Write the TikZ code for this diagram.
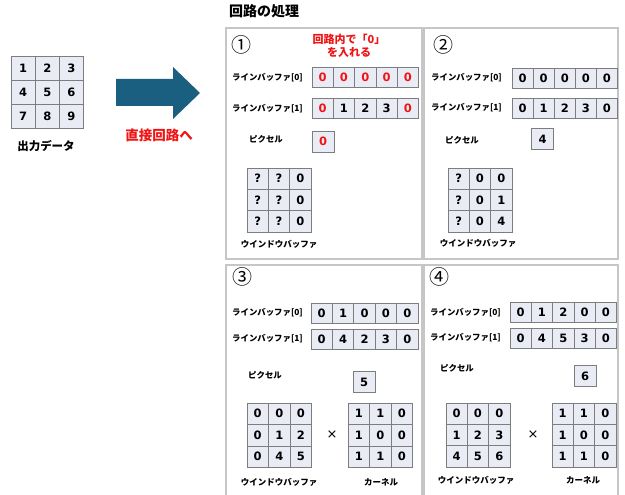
\documentclass[tikz,border=0pt]{standalone}
\usepackage{fontspec}
\setmainfont{Noto Sans CJK JP}
\newfontfamily\digf{DejaVu Sans}
\definecolor{cellfill}{RGB}{233,235,245}
\definecolor{celldraw}{RGB}{125,125,125}
\definecolor{arrowc}{RGB}{26,94,128}
\definecolor{panelc}{RGB}{198,198,198}
\definecolor{redtxt}{RGB}{240,20,20}
\newcommand\rd{\color{redtxt}}
\tikzset{
  cell/.style={draw=celldraw,fill=cellfill,inner sep=0pt,line width=0.8pt,
    font=\digf\bfseries\fontsize{11.5}{12}\selectfont},
  lbl/.style={inner sep=0pt,font=\bfseries\fontsize{8.4}{9}\selectfont},
  capt/.style={inner sep=0pt,font=\bfseries\fontsize{8.5}{10}\selectfont},
  circ/.style={inner sep=0pt,font=\fontsize{20}{21}\selectfont},
  panel/.style={draw=panelc,line width=1.8pt},
  times/.style={inner sep=0pt,font=\digf\fontsize{13}{14}\selectfont}
}
% row of cells: name, x left, y center, width, height, list
\newcommand\mkrow[6]{%
  \foreach \v [count=\i] in {#6}
    \node[cell,minimum width=#4pt,minimum height=#5pt] (#1\i) at ({#2+(\i-0.5)*#4},#3) {\v};}
% 3x3 grid: name, x left, y top, cell size, list
\newcommand\mkgrid[5]{%
  \foreach \v [count=\i] in {#5} {
    \pgfmathtruncatemacro\rr{(\i-1)/3}
    \pgfmathtruncatemacro\cc{mod(\i-1,3)}
    \node[cell,minimum width=#4pt,minimum height=#4pt] (#1\i) at ({#2+(\cc+0.5)*#4},{#3+(\rr+0.5)*#4}) {\v};
  }}
\begin{document}
\begin{tikzpicture}[x=1pt,y=-1pt]
\useasboundingbox (0,0) rectangle (625,495);

% left: output data
\mkgrid{out}{11}{56}{24.2}{1,2,3,4,5,6,7,8,9}
\node[inner sep=0pt,font=\bfseries\fontsize{11.5}{12}\selectfont] (outlbl) at (46,146) {出力データ};

% big arrow
\fill[arrowc] (116,79) -- (173,79) -- (173,67) -- (200,93) -- (173,119) -- (173,106) -- (116,106) -- cycle;
\node[inner sep=0pt,text=redtxt,font=\bfseries\fontsize{13.5}{14}\selectfont] (direct) at (159,135) {直接回路へ};

% title
\node[anchor=west,inner sep=0pt,font=\bfseries\fontsize{14}{15}\selectfont] (title) at (229,11) {回路の処理};

% panels
\draw[panel] (226,28) rectangle (422,259);
\draw[panel] (424,28) rectangle (618,259);
\draw[panel] (226,497) -- (226,265) -- (422,265) -- (422,497);
\draw[panel] (424,497) -- (424,265) -- (618,265) -- (618,497);

% ---- panel 1
\node[circ] (n1) at (241,45) {①};
\node[inner sep=0pt,text=redtxt,font=\bfseries\fontsize{11}{12.5}\selectfont,align=center] (note) at (349,46) {回路内で「0」\\を入れる};
\node[lbl,anchor=west] (a0) at (232,77.5) {ラインバッファ[0]};
\node[lbl,anchor=west] (a1) at (232,108.5) {ラインバッファ[1]};
\mkrow{al0}{312}{77.5}{21.3}{20}{\rd 0,\rd 0,\rd 0,\rd 0,\rd 0}
\mkrow{al1}{312}{108.5}{21.3}{20}{\rd 0,1,2,3,\rd 0}
\node[lbl] (apx) at (266,139) {ピクセル};
\node[cell,minimum width=22pt,minimum height=21pt] (apc) at (323,141.5) {\rd 0};
\mkgrid{aw}{247}{168}{21.3}{?,?,0,?,?,0,?,?,0}
\node[capt] (awl) at (279,244) {ウインドウバッファ};

% ---- panel 2
\node[circ] (n2) at (443,45) {②};
\node[lbl,anchor=west] (b0) at (431,78) {ラインバッファ[0]};
\node[lbl,anchor=west] (b1) at (431,108) {ラインバッファ[1]};
\mkrow{bl0}{512}{78}{21.1}{20}{0,0,0,0,0}
\mkrow{bl1}{512}{108}{21.1}{20}{0,1,2,3,0}
\node[lbl] (bpx) at (462,140) {ピクセル};
\node[cell,minimum width=22pt,minimum height=21pt] (bpc) at (542.5,139) {4};
\mkgrid{bw}{448}{168}{21.3}{?,0,0,?,0,1,?,0,4}
\node[capt] (bwl) at (478,243) {ウインドウバッファ};

% ---- panel 3
\node[circ] (n3) at (242,277) {③};
\node[lbl,anchor=west] (c0) at (232,313) {ラインバッファ[0]};
\node[lbl,anchor=west] (c1) at (232,339) {ラインバッファ[1]};
\mkrow{cl0}{311}{313}{21.4}{20}{0,1,0,0,0}
\mkrow{cl1}{311}{339}{21.4}{20}{0,4,2,3,0}
\node[lbl] (cpx) at (265,375) {ピクセル};
\node[cell,minimum width=22pt,minimum height=21pt] (cpc) at (364,382) {5};
\mkgrid{cw}{247}{403}{21.5}{0,0,0,0,1,2,0,4,5}
\node[times] (cx) at (332,435) {×};
\mkgrid{ck}{348}{403}{21.5}{1,1,0,1,0,0,1,1,0}
\node[capt] (cwl) at (279,482) {ウインドウバッファ};
\node[capt] (ckl) at (381,482) {カーネル};

% ---- panel 4
\node[circ] (n4) at (439,277) {④};
\node[lbl,anchor=west] (d0) at (430,312.5) {ラインバッファ[0]};
\node[lbl,anchor=west] (d1) at (430,338) {ラインバッファ[1]};
\mkrow{dl0}{510}{312.5}{21.3}{20}{0,1,2,0,0}
\mkrow{dl1}{510}{338}{21.3}{20}{0,4,5,3,0}
\node[lbl] (dpx) at (457,368) {ピクセル};
\node[cell,minimum width=22pt,minimum height=21pt] (dpc) at (585,376) {6};
\mkgrid{dw}{446}{403}{21.3}{0,0,0,1,2,3,4,5,6}
\node[times] (dx) at (533,435) {×};
\mkgrid{dk}{552}{403}{21.3}{1,1,0,1,0,0,1,1,0}
\node[capt] (dwl) at (476,480) {ウインドウバッファ};
\node[capt] (dkl) at (583,480) {カーネル};
\end{tikzpicture}
\end{document}
